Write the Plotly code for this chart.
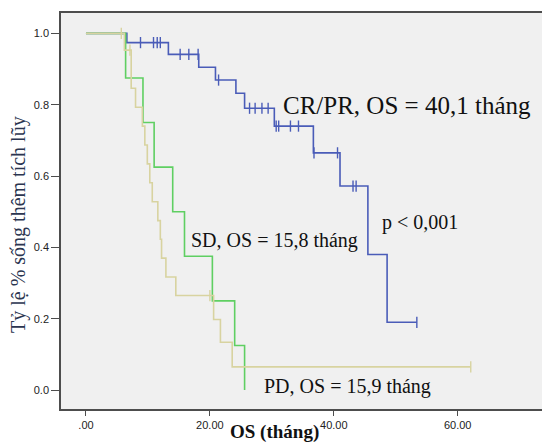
import plotly.graph_objects as go
import bisect

# ---------------- data ----------------
# CR/PR group
cr_times = [0, 6.6, 13.3, 18.2, 20.9, 24.2, 25.6, 30.4, 36.7, 41.0, 45.5, 48.6]
cr_surv = [1.0, 0.974, 0.941, 0.905, 0.869, 0.832, 0.790, 0.740, 0.665, 0.572, 0.380, 0.190]
cr_censor = [8.8, 10.9, 11.5, 12.0, 15.2, 16.6, 18.1, 21.4, 26.4, 27.3, 28.4, 29.4,
             30.7, 31.1, 33.0, 34.3, 36.8, 40.6, 43.1, 43.6, 53.4]

# SD group
sd_times = [0, 6.4, 9.2, 11.0, 14.0, 15.9, 20.4, 24.0, 25.6]
sd_surv = [1.0, 0.875, 0.750, 0.625, 0.500, 0.375, 0.250, 0.125, 0.0]
sd_censor = []

# PD group
pd_times = [0, 6.2, 7.3, 8.0, 9.1, 9.5, 9.9, 10.3, 10.7, 11.6, 12.0, 12.2, 12.9, 14.5,
            20.6, 21.7, 23.6]
pd_surv = [1.0, 0.953, 0.846, 0.793, 0.740, 0.687, 0.634, 0.581, 0.528, 0.475, 0.423,
           0.370, 0.317, 0.265, 0.198, 0.134, 0.065]
pd_censor = [5.7, 7.1, 20.0, 62.1]

x_tickvals = [0, 20, 40, 60]
x_ticktext = [".00", "20.00", "40.00", "60.00"]
y_tickvals = [0.0, 0.2, 0.4, 0.6, 0.8, 1.0]
y_ticktext = ["0.0", "0.2", "0.4", "0.6", "0.8", "1.0"]

labels = {
    "cr": "CR/PR, OS = 40,1 tháng",
    "sd": "SD, OS = 15,8 tháng",
    "pd": "PD, OS = 15,9 tháng",
    "p": "p < 0,001",
}

COL_CR = "#4a5cb8"
COL_SD = "#5fcf62"
COL_PD = "#d8d3a0"


def surv_at(times, surv, t):
    i = bisect.bisect_right(times, t) - 1
    return surv[max(i, 0)]


fig = go.Figure()


def add_group(times, surv, censor, color, name):
    xs = list(times)
    ys = list(surv)
    if censor and max(censor) > xs[-1]:
        xs.append(max(censor))
        ys.append(ys[-1])
    fig.add_trace(go.Scatter(x=xs, y=ys, mode="lines", line=dict(color=color, width=1.6, shape="hv"),
                             name=name, showlegend=False, hoverinfo="skip"))
    if censor:
        fig.add_trace(go.Scatter(x=censor, y=[surv_at(times, surv, c) for c in censor], mode="markers",
                                 marker=dict(symbol="line-ns-open", size=8, color=color,
                                             line=dict(color=color, width=1.4)),
                                 showlegend=False, hoverinfo="skip"))


add_group(cr_times, cr_surv, cr_censor, COL_CR, "CR/PR")
add_group(sd_times, sd_surv, sd_censor, COL_SD, "SD")
add_group(pd_times, pd_surv, pd_censor, COL_PD, "PD")

serif = "Liberation Serif, Times New Roman, serif"
sans = "Liberation Sans, Arial, sans-serif"

ann = [
    dict(x=31.5, y=0.799, text=labels["cr"], size=25),
    dict(x=16.6, y=0.418, text=labels["sd"], size=20),
    dict(x=47.5, y=0.469, text=labels["p"], size=20),
    dict(x=28.4, y=0.010, text=labels["pd"], size=20),
]
for a in ann:
    fig.add_annotation(x=a["x"], y=a["y"], xref="x", yref="y", text=a["text"], showarrow=False,
                       xanchor="left", yanchor="middle",
                       font=dict(family=serif, size=a["size"], color="#111111"))

# axis titles as annotations
fig.add_annotation(x=(18 - 61) / 481, y=(409 - 225) / 396, xref="paper", yref="paper",
                   text="Tỷ lệ % sống thêm tích lũy",
                   textangle=-90, showarrow=False, xanchor="center", yanchor="middle",
                   font=dict(family=serif, size=20, color="#2b3550"))
fig.add_annotation(x=(274 - 61) / 481, y=(409 - 445) / 396, xref="paper", yref="paper",
                   text="<b>OS (tháng)</b>", showarrow=False, xanchor="center", yanchor="bottom",
                   font=dict(family=serif, size=19, color="#111111"))

fig.update_layout(
    width=542, height=445,
    margin=dict(l=61, r=0, t=13, b=36),
    paper_bgcolor="white", plot_bgcolor="#f0f0f0",
    showlegend=False,
)
fig.update_xaxes(range=[-4.03, 73.6], tickvals=x_tickvals, ticktext=x_ticktext,
                 showgrid=False, zeroline=False, showline=True, linecolor="#4d4d4d", linewidth=1.6,
                 mirror=True, ticks="outside", ticklen=5, tickcolor="#4d4d4d", tickwidth=1.3,
                 tickfont=dict(family=sans, size=11, color="#222222"))
fig.update_yaxes(range=[-0.053, 1.057], tickvals=y_tickvals, ticktext=y_ticktext,
                 showgrid=False, zeroline=False, showline=True, linecolor="#4d4d4d", linewidth=1.6,
                 ticks="outside", ticklen=8, tickcolor="#4d4d4d", tickwidth=1.3,
                 tickfont=dict(family=sans, size=11, color="#222222"))

fig.write_html("out.html", config={"displayModeBar": False},
               post_script="document.body.style.margin='0';")
